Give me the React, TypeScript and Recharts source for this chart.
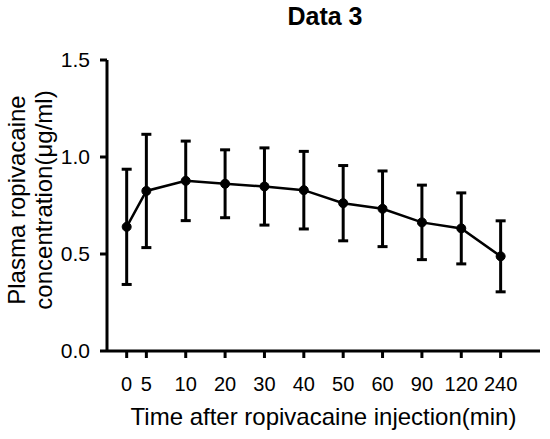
import { LineChart, Line, XAxis, YAxis, ErrorBar } from 'recharts';

// time points (min) shown as category labels on the x axis
const TIMES = ['0', '5', '10', '20', '30', '40', '50', '60', '90', '120', '240'];
// plasma ropivacaine concentration, mean and SD (µg/ml)
const MEANS = [0.64, 0.825, 0.877, 0.862, 0.848, 0.829, 0.762, 0.733, 0.663, 0.632, 0.488];
const SDS = [0.297, 0.292, 0.205, 0.175, 0.199, 0.2, 0.194, 0.195, 0.192, 0.183, 0.183];
const Y_TICKS = [0, 0.5, 1.0, 1.5];

const FONT = '"Liberation Sans", Arial, sans-serif';

// 0 and 5 min sit half a step apart, every later point one full step
const slot = (i: number) => (i === 0 ? 0 : i - 0.5);

const data = TIMES.map((t, i) => ({ pos: slot(i), time: t, mean: MEANS[i], sd: SDS[i] }));
const xTicks = data.map((d) => d.pos);

const YLabel = () => (
  <g fontFamily={FONT} fontSize={24} fill="#000">
    <text x={25} y={200} textAnchor="middle" transform="rotate(-90, 25, 200)">
      Plasma ropivacaine
    </text>
    <text x={52} y={200} textAnchor="middle" transform="rotate(-90, 52, 200)">
      concentration(μg/ml)
    </text>
  </g>
);

export default function App() {
  return (
    <div style={{ position: 'absolute', left: 0, top: 0, width: 550, height: 439, background: '#fff' }}>
      <div
        style={{
          position: 'absolute',
          left: 0,
          top: 2,
          width: 650,
          textAlign: 'center',
          fontFamily: FONT,
          fontWeight: 'bold',
          fontSize: 25,
          color: '#000',
        }}
      >
        Data 3
      </div>
      <LineChart width={550} height={439} data={data} margin={{ top: 60, right: 10, left: 0, bottom: 0 }}>
        <XAxis
          dataKey="pos"
          type="number"
          domain={[-0.5, 10.5]}
          ticks={xTicks}
          tickFormatter={(v: number) => TIMES[xTicks.indexOf(v)] ?? ''}
          interval={0}
          height={88}
          stroke="#000"
          strokeWidth={3}
          tickSize={7}
          tickMargin={19}
          tick={{ fill: '#000', fontSize: 20, fontFamily: FONT }}
          label={{
            value: 'Time after ropivacaine injection(min)',
            position: 'insideBottom',
            offset: 14,
            fill: '#000',
            fontSize: 24,
            fontFamily: FONT,
          }}
        />
        <YAxis
          type="number"
          domain={[0, 1.5]}
          ticks={Y_TICKS}
          tickFormatter={(v: number) => v.toFixed(1)}
          width={107}
          stroke="#000"
          strokeWidth={3}
          tickSize={7}
          tickMargin={10}
          tick={{ fill: '#000', fontSize: 21, fontFamily: FONT }}
          label={<YLabel />}
        />
        <Line
          dataKey="mean"
          stroke="#000"
          strokeWidth={2.5}
          dot={{ r: 4.5, fill: '#000', stroke: '#000', strokeWidth: 1 }}
          activeDot={false}
          isAnimationActive={false}
        >
          <ErrorBar dataKey="sd" direction="y" width={5} stroke="#000" strokeWidth={3} isAnimationActive={false} />
        </Line>
      </LineChart>
    </div>
  );
}
